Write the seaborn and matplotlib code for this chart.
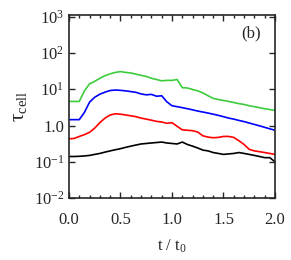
import pandas as pd
import matplotlib
matplotlib.use("Agg")
import matplotlib.pyplot as plt
import matplotlib.ticker as mticker
import seaborn as sns

# time axis (t / t0)
t = [0.00, 0.05, 0.10, 0.15, 0.20, 0.25, 0.30, 0.35, 0.40, 0.45,
     0.50, 0.55, 0.60, 0.65, 0.70, 0.75, 0.80, 0.85, 0.90, 0.95,
     1.00, 1.05, 1.10, 1.15, 1.20, 1.25, 1.30, 1.35, 1.40, 1.45,
     1.50, 1.55, 1.60, 1.65, 1.70, 1.75, 1.80, 1.85, 1.90, 1.95, 2.00]

# tau_cell curves
green = [4.6, 4.6, 4.6, 9.0, 14.0, 16.5, 20.0, 23.5, 26.5, 29.0,
         30.5, 29.0, 28.0, 26.0, 24.0, 22.5, 20.0, 18.5, 17.0, 17.5,
         17.5, 18.5, 11.0, 10.8, 9.8, 9.0, 7.9, 6.6, 5.6, 5.2,
         4.9, 4.6, 4.3, 4.0, 3.8, 3.5, 3.3, 3.1, 2.9, 2.75, 2.6]
blue = [1.45, 1.45, 1.45, 2.3, 4.4, 6.0, 7.3, 8.3, 9.2, 9.5,
        9.3, 9.0, 8.6, 8.2, 7.4, 7.0, 7.2, 6.4, 6.6, 4.5,
        3.5, 3.3, 3.1, 2.9, 2.7, 2.5, 2.35, 2.2, 2.05, 1.9,
        1.75, 1.6, 1.5, 1.38, 1.28, 1.17, 1.07, 0.98, 0.89, 0.81, 0.74]
red = [0.43, 0.44, 0.5, 0.56, 0.65, 0.85, 1.2, 1.6, 1.95, 2.1,
       2.05, 1.95, 1.85, 1.75, 1.6, 1.5, 1.4, 1.3, 1.25, 1.15,
       1.2, 0.95, 0.76, 0.74, 0.72, 0.66, 0.52, 0.48, 0.46, 0.47,
       0.5, 0.5, 0.47, 0.38, 0.3, 0.22, 0.2, 0.19, 0.18, 0.17, 0.16]
black = [0.14, 0.14, 0.142, 0.145, 0.15, 0.16, 0.17, 0.185, 0.2, 0.215,
         0.23, 0.25, 0.27, 0.29, 0.31, 0.32, 0.33, 0.34, 0.35, 0.33,
         0.32, 0.31, 0.35, 0.3, 0.27, 0.24, 0.21, 0.2, 0.18, 0.17,
         0.16, 0.165, 0.17, 0.18, 0.17, 0.16, 0.15, 0.14, 0.13, 0.13, 0.1]

yticks = [1e-2, 1e-1, 1, 10, 100, 1000]
ytick_labels = ["$10^{-2}$", "$10^{-1}$", "1.0", "$10^{1}$", "$10^{2}$", "$10^{3}$"]
xticks = [0.0, 0.5, 1.0, 1.5, 2.0]

series = {"green": green, "blue": blue, "red": red, "black": black}
df = pd.concat([pd.DataFrame({"t": t, "tau": v, "run": k}) for k, v in series.items()])

sns.set_style("ticks")
plt.rcParams["font.family"] = ["Liberation Serif", "DejaVu Serif"]
plt.rcParams["mathtext.fontset"] = "custom"
plt.rcParams["mathtext.rm"] = "Liberation Serif"
plt.rcParams["mathtext.it"] = "Liberation Serif:italic"
plt.rcParams["mathtext.default"] = "rm"

fig = plt.figure(figsize=(2.91, 2.6), dpi=100)
ax = fig.add_axes([0.237, 0.238, 0.708, 0.704])

palette = {"green": "#3ccc3c", "blue": "#0000ff", "red": "#ff0000", "black": "#000000"}
sns.lineplot(data=df, x="t", y="tau", hue="run", palette=palette, ax=ax,
             legend=False, linewidth=1.2)

ax.set_yscale("log")
ax.set_xlim(0, 2)
ax.set_ylim(1e-2, 1.1e3)
ax.set_yticks(yticks)
ax.set_yticklabels(ytick_labels)
ax.yaxis.set_minor_locator(mticker.NullLocator())
ax.set_xticks(xticks)
ax.set_xticklabels(["0.0", "0.5", "1.0", "1.5", "2.0"])
ax.xaxis.set_minor_locator(mticker.MultipleLocator(0.1))

ax.tick_params(which="both", direction="in", top=True, right=True, labelsize=12)
ax.tick_params(which="major", length=4, width=1)
ax.tick_params(which="minor", length=2.5, width=1)
ax.tick_params(axis="x", pad=10)
for s in ax.spines.values():
    s.set_linewidth(1.2)

ax.set_xlabel("t / t$_0$", fontsize=12, labelpad=7)
ax.set_ylabel(r"$\tau_{\rm cell}$", fontsize=15, labelpad=3)
ax.text(0.93, 0.9, "(b)", transform=ax.transAxes, ha="right", va="center", fontsize=12)

fig.savefig("out.png", dpi=100)
